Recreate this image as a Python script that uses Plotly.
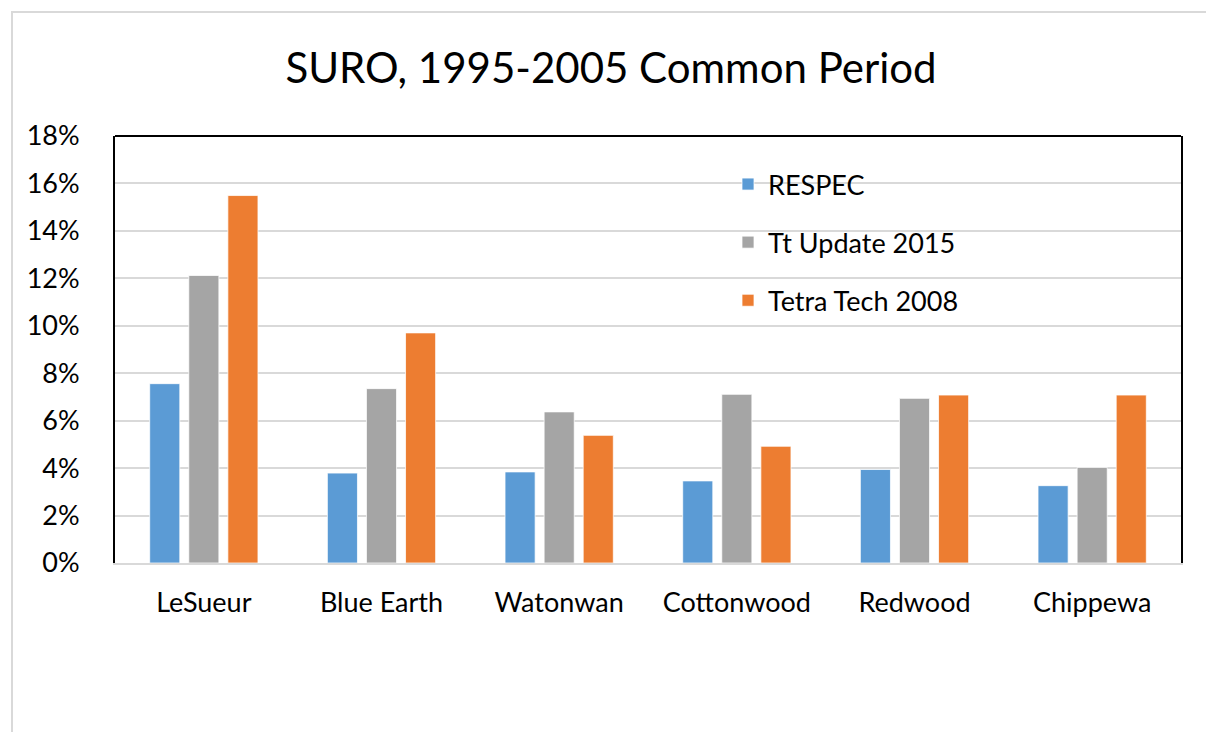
import plotly.graph_objects as go

categories = ["LeSueur", "Blue Earth", "Watonwan", "Cottonwood", "Redwood", "Chippewa"]
respec = [0.0756, 0.0379, 0.0384, 0.0346, 0.0394, 0.0326]
tt_update_2015 = [0.1212, 0.0735, 0.0637, 0.0711, 0.0694, 0.0403]
tetra_tech_2008 = [0.1549, 0.0970, 0.0538, 0.0492, 0.0708, 0.0708]
y_ticks = [0, 0.02, 0.04, 0.06, 0.08, 0.10, 0.12, 0.14, 0.16, 0.18]

series = [
    ("RESPEC", respec, "#5B9BD5"),
    ("Tt Update 2015", tt_update_2015, "#A5A5A5"),
    ("Tetra Tech 2008", tetra_tech_2008, "#ED7D31"),
]

FONT = "Lato, Carlito, Calibri, sans-serif"

fig = go.Figure()
for i, (name, vals, color) in enumerate(series):
    fig.add_trace(go.Bar(
        x=categories, y=vals, name=name,
        marker=dict(color=color, line=dict(color="white", width=0.75)),
        legendgroup=f"g{i}",
    ))

# page body has an 8px margin; work in screen pixels and offset
OFF = 8
SW, SH = 1214, 732
W, H = SW - OFF, SH - OFF
# plot area in screen pixels
PL, PR, PT, PB = 115, 1181, 136, 563
L = PL - OFF
T = PT - OFF
R = W - (PR - OFF)
B = H - (PB - OFF)
pw, ph = PR - PL, PB - PT


def px_x(sx):
    return (sx - PL) / pw


def px_y(sy):
    return (PB - sy) / ph


fig.update_layout(
    width=W, height=H,
    margin=dict(l=L, r=R, t=T, b=B, autoexpand=False),
    paper_bgcolor="white", plot_bgcolor="white",
    font=dict(family=FONT, color="#000000", size=27),
    title=dict(text="SURO, 1995-2005 Common Period", x=0.5, xanchor="center",
               y=1 - (68 - OFF) / H, yanchor="middle",
               font=dict(family=FONT, size=42, color="#000000")),
    barmode="group", bargap=0.34, bargroupgap=0.23,
    showlegend=True,
    legend=dict(x=px_x(728), xanchor="left",
                y=px_y(160), yanchor="top",
                bgcolor="rgba(0,0,0,0)", traceorder="grouped",
                tracegroupgap=20, font=dict(size=27, family=FONT),
                itemwidth=30),
)

fig.update_xaxes(
    showgrid=False, showline=True, linecolor="#D9D9D9", linewidth=2,
    ticks="outside", ticklen=15, tickcolor="rgba(0,0,0,0)",
    tickfont=dict(size=27, family=FONT),
)
fig.update_yaxes(
    range=[0, 0.18], tickvals=y_ticks, tickformat=".0%",
    showgrid=True, gridcolor="#D9D9D9", gridwidth=2,
    showline=True, linecolor="#000000", linewidth=2, mirror=True,
    ticks="outside", ticklen=28, tickcolor="rgba(0,0,0,0)",
    tickfont=dict(size=27, family=FONT), zeroline=False,
)

# top black border of plot area
fig.add_shape(type="line", xref="paper", yref="paper", x0=0, x1=1, y0=1, y1=1,
              line=dict(color="#000000", width=2))
# outer chart frame (light gray), left and top edges visible
fig.add_shape(type="rect", xref="paper", yref="paper",
              x0=px_x(12), x1=px_x(SW + 20),
              y0=px_y(SH + 20), y1=px_y(12),
              line=dict(color="#D9D9D9", width=2), layer="below")

fig.write_html("out.html")
